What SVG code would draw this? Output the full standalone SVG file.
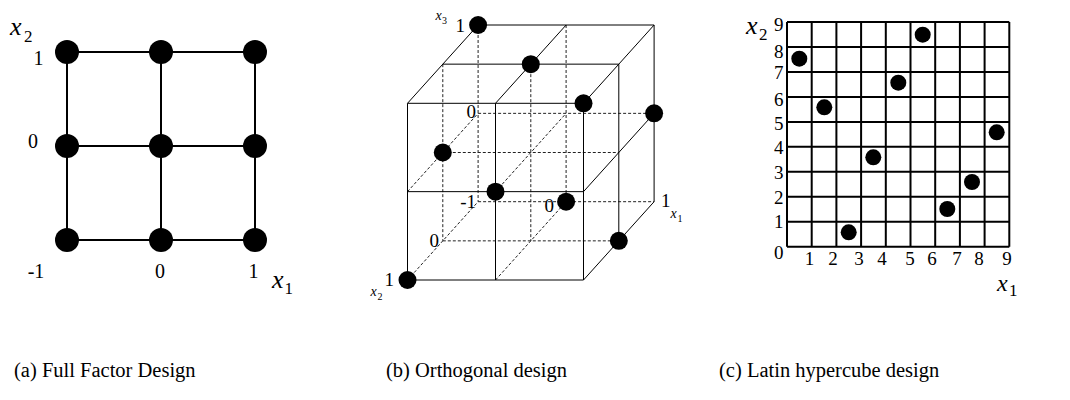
<svg xmlns="http://www.w3.org/2000/svg" width="1070" height="400" viewBox="0 0 1070 400">
<style>
text{font-family:"Liberation Serif","Times New Roman",serif;fill:#000}
.d{font-size:20px}
.dm{font-size:19px}
.dc{font-size:19px}
.v{font-size:26px;font-style:italic}
.v2{font-size:24px;font-style:italic}
.s{font-size:17px}
.vs{font-size:14px;font-style:italic}
.ss{font-size:10px}
.cap{font-size:20.5px}
.g{stroke:#000;stroke-width:2;fill:none}
.cs{stroke:#000;stroke-width:1;fill:none}
.cd{stroke:#222;stroke-width:1;stroke-dasharray:3 2;fill:none}
.dot{fill:#000}
</style>

<!-- (a) Full factor design -->
<g id="full-factor">
  <g class="g">
    <line x1="67" y1="52" x2="255" y2="52"/>
    <line x1="67" y1="146" x2="255" y2="146"/>
    <line x1="67" y1="240" x2="255" y2="240"/>
    <line x1="67" y1="52" x2="67" y2="240"/>
    <line x1="161" y1="52" x2="161" y2="240"/>
    <line x1="255" y1="52" x2="255" y2="240"/>
  </g>
  <g class="dot">
    <circle cx="67" cy="52" r="12"/><circle cx="161" cy="52" r="12"/><circle cx="255" cy="52" r="12"/>
    <circle cx="67" cy="146" r="12"/><circle cx="161" cy="146" r="12"/><circle cx="255" cy="146" r="12"/>
    <circle cx="67" cy="240" r="12"/><circle cx="161" cy="240" r="12"/><circle cx="255" cy="240" r="12"/>
  </g>
  <text class="v" x="10" y="35">x</text><text class="s" x="24" y="42">2</text>
  <text class="d" x="38.5" y="65" text-anchor="middle">1</text>
  <text class="d" x="33" y="148" text-anchor="middle">0</text>
  <text class="d" x="36" y="278" text-anchor="middle">-1</text>
  <text class="d" x="160" y="278" text-anchor="middle">0</text>
  <text class="d" x="253.5" y="278" text-anchor="middle">1</text>
  <text class="v" x="272" y="288">x</text><text class="s" x="284.5" y="294">1</text>
</g>

<!-- (b) Orthogonal design -->
<g id="orthogonal">
  <g class="cd">
    <line x1="442.8" y1="64.15" x2="442.8" y2="240.85"/>
    <line x1="530.8" y1="64.15" x2="530.8" y2="240.85"/>
    <line x1="442.8" y1="152.5" x2="618.8" y2="152.5"/>
    <line x1="442.8" y1="240.85" x2="618.8" y2="240.85"/>
    <line x1="478.1" y1="25" x2="478.1" y2="201.7"/>
    <line x1="566.1" y1="25" x2="566.1" y2="201.7"/>
    <line x1="478.1" y1="113.35" x2="654.1" y2="113.35"/>
    <line x1="478.1" y1="201.7" x2="654.1" y2="201.7"/>
    <line x1="407.5" y1="191.65" x2="478.1" y2="113.35"/>
    <line x1="407.5" y1="280" x2="478.1" y2="201.7"/>
    <line x1="495.5" y1="191.65" x2="566.1" y2="113.35"/>
    <line x1="495.5" y1="280" x2="566.1" y2="201.7"/>
  </g>
  <g class="cs">
    <line x1="407.5" y1="103.3" x2="407.5" y2="280"/>
    <line x1="495.5" y1="103.3" x2="495.5" y2="280"/>
    <line x1="583.5" y1="103.3" x2="583.5" y2="280"/>
    <line x1="407.5" y1="103.3" x2="583.5" y2="103.3"/>
    <line x1="407.5" y1="191.65" x2="583.5" y2="191.65"/>
    <line x1="407.5" y1="280" x2="583.5" y2="280"/>
    <line x1="407.5" y1="103.3" x2="478.1" y2="25"/>
    <line x1="495.5" y1="103.3" x2="566.1" y2="25"/>
    <line x1="583.5" y1="103.3" x2="654.1" y2="25"/>
    <line x1="442.8" y1="64.15" x2="618.8" y2="64.15"/>
    <line x1="478.1" y1="25" x2="654.1" y2="25"/>
    <line x1="583.5" y1="191.65" x2="654.1" y2="113.35"/>
    <line x1="583.5" y1="280" x2="654.1" y2="201.7"/>
    <line x1="618.8" y1="64.15" x2="618.8" y2="240.85"/>
    <line x1="654.1" y1="25" x2="654.1" y2="201.7"/>
  </g>
  <g class="dot">
    <circle cx="478.1" cy="25" r="9"/>
    <circle cx="530.8" cy="64.15" r="9"/>
    <circle cx="583.5" cy="103.3" r="9"/>
    <circle cx="654.1" cy="113.35" r="9"/>
    <circle cx="442.8" cy="152.5" r="9"/>
    <circle cx="495.5" cy="191.65" r="9"/>
    <circle cx="566.1" cy="201.7" r="9"/>
    <circle cx="618.8" cy="240.85" r="9"/>
    <circle cx="407.5" cy="280" r="9"/>
  </g>
  <text class="vs" x="435.5" y="20">x</text><text class="ss" x="442" y="24">3</text>
  <text class="dm" x="465" y="32" text-anchor="end">1</text>
  <text class="dm" x="476" y="118" text-anchor="end">0</text>
  <text class="dm" x="476" y="208" text-anchor="end">-1</text>
  <text class="dm" x="554" y="212" text-anchor="end">0</text>
  <text class="dm" x="661" y="207">1</text>
  <text class="vs" x="670.5" y="217.5">x</text><text class="ss" x="677.5" y="222">1</text>
  <text class="dm" x="439" y="247" text-anchor="end">0</text>
  <text class="dm" x="394" y="286" text-anchor="end">1</text>
  <text class="vs" x="370.5" y="295.5">x</text><text class="ss" x="377.5" y="300">2</text>
</g>

<!-- (c) Latin hypercube design -->
<g id="latin-hypercube">
  <g class="g">
    <path d="M787 22V246.7M811.7 22V246.7M836.4 22V246.7M861.1 22V246.7M885.8 22V246.7M910.5 22V246.7M935.2 22V246.7M959.9 22V246.7M984.6 22V246.7M1009.3 22V246.7"/>
    <path d="M787 22H1009.3M787 47H1009.3M787 71.9H1009.3M787 96.9H1009.3M787 121.9H1009.3M787 146.8H1009.3M787 171.8H1009.3M787 196.8H1009.3M787 221.7H1009.3M787 246.7H1009.3"/>
  </g>
  <g class="dot">
    <circle cx="799.3" cy="58.7" r="8"/>
    <circle cx="922.7" cy="34.7" r="8"/>
    <circle cx="898.3" cy="82.7" r="8"/>
    <circle cx="824.3" cy="107.3" r="8"/>
    <circle cx="996.7" cy="132.3" r="8"/>
    <circle cx="873.3" cy="157.3" r="8"/>
    <circle cx="972" cy="182" r="8"/>
    <circle cx="947.3" cy="209" r="8"/>
    <circle cx="848.7" cy="232.3" r="8"/>
  </g>
  <text class="v" x="746" y="34">x</text><text class="s" x="759" y="40">2</text>
  <g class="dc" text-anchor="end">
    <text x="783.5" y="31">9</text>
    <text x="783.5" y="57.5">8</text>
    <text x="783.5" y="78.5">7</text>
    <text x="783.5" y="106">6</text>
    <text x="783.5" y="130">5</text>
    <text x="783.5" y="153.5">4</text>
    <text x="783.5" y="179">3</text>
    <text x="783.5" y="203.5">2</text>
    <text x="783.5" y="227.5">1</text>
    <text x="783.5" y="259">0</text>
  </g>
  <g class="dc" text-anchor="middle">
    <text x="809.5" y="265">1</text>
    <text x="833" y="265">2</text>
    <text x="859" y="265">3</text>
    <text x="882" y="265">4</text>
    <text x="910" y="265">5</text>
    <text x="932" y="265">6</text>
    <text x="957" y="265">7</text>
    <text x="979" y="265">8</text>
    <text x="1007" y="265">9</text>
  </g>
  <text class="v2" x="997" y="291">x</text><text class="s" x="1009" y="296">1</text>
</g>

<g id="captions">
  <text class="cap" x="14" y="377">(a) Full Factor Design</text>
  <text class="cap" x="386" y="377">(b) Orthogonal design</text>
  <text class="cap" x="719" y="377">(c) Latin hypercube design</text>
</g>
</svg>
